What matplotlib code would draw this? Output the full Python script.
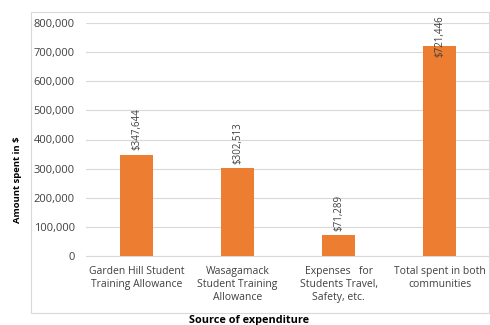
import matplotlib
matplotlib.use("Agg")
import matplotlib.pyplot as plt
from matplotlib.patches import Rectangle

categories = ["Garden Hill Student\nTraining Allowance",
              "Wasagamack\nStudent Training\nAllowance",
              "Expenses   for\nStudents Travel,\nSafety, etc.",
              "Total spent in both\ncommunities"]
values = [347644, 302513, 71289, 721446]
labels = ["$347,644", "$302,513", "$71,289", "$721,446"]
yticks = [0, 100000, 200000, 300000, 400000, 500000, 600000, 700000, 800000]

font = ["Open Sans", "DejaVu Sans"]
plt.rcParams['font.family'] = font
txt = "#404040"

fig = plt.figure(figsize=(4.9, 3.25), dpi=100)
fig.patches.append(Rectangle((31/490, 1-313/325), (489-31)/490, (313-12)/325,
                             transform=fig.transFigure, fill=False,
                             edgecolor="#d9d9d9", linewidth=0.8))
ax = fig.add_axes([86/490, 1-256/325, 404/490, (256-23)/325])
x = range(len(categories))
ax.bar(x, values, width=0.32, color="#ED7D31", zorder=3)
ax.set_xlim(-0.5, 3.5)
ax.set_ylim(0, 800000)
ax.set_yticks(yticks)
ax.set_yticklabels([f"{v:,}" for v in yticks], fontsize=8, color=txt)
ax.set_xticks(list(x))
ax.set_xticklabels(categories, fontsize=7.5, color=txt, linespacing=1.25)
ax.tick_params(axis='both', length=0)
ax.tick_params(axis='y', pad=8)
ax.tick_params(axis='x', pad=7)
ax.grid(axis='y', color="#d9d9d9", linewidth=0.8, zorder=0)
for s in ['top', 'right', 'left']:
    ax.spines[s].set_visible(False)
ax.spines['bottom'].set_color("#d9d9d9")

for i, (v, lab) in enumerate(zip(values, labels)):
    if v > 650000:
        ax.text(i, 827000, lab, rotation=90, ha='center', va='top',
                fontsize=7, color=txt, clip_on=False)
    else:
        ax.text(i, v + 15000, lab, rotation=90, ha='center', va='bottom',
                fontsize=7, color=txt)

fig.text(17/490, 1-180/325, "Amount spent in $", rotation=90, ha='center',
         va='center', fontsize=6.8, fontweight='bold', color='black')
fig.text(249/490, 1-321/325, "Source of expenditure", ha='center', va='center',
         fontsize=7.8, fontweight='bold', color='black')

fig.savefig("out.png", dpi=100)
